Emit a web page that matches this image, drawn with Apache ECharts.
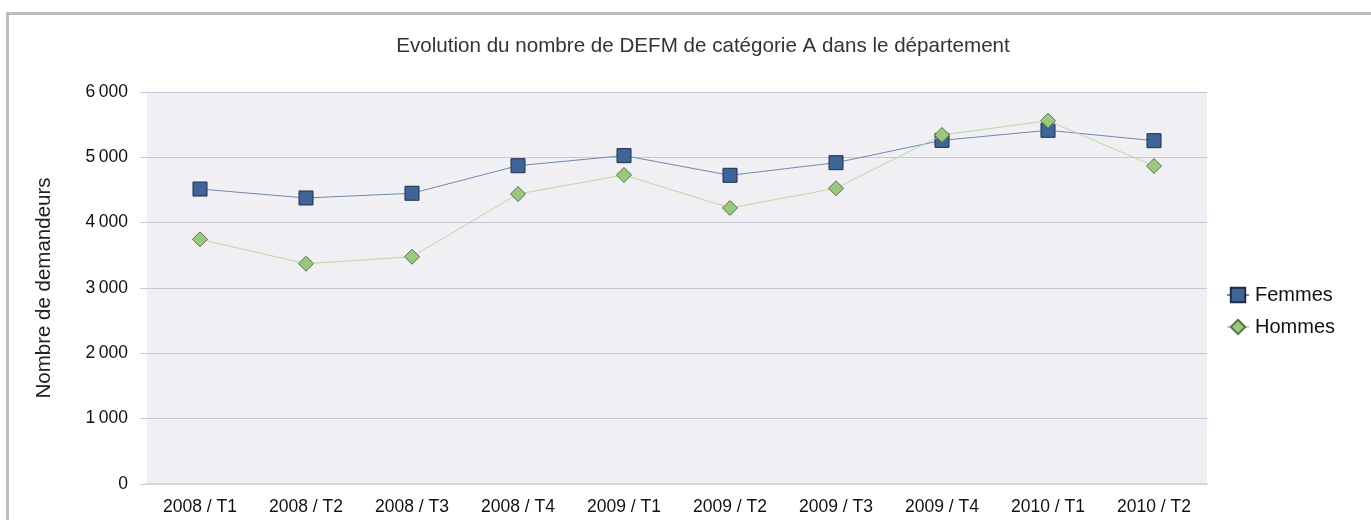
<!DOCTYPE html>
<html>
<head>
<meta charset="utf-8">
<script src="https://cdn.jsdelivr.net/npm/echarts@6/dist/echarts.min.js"></script>
<style>
  html, body { margin: 0; padding: 0; background: #fff; }
  #main { width: 1371px; height: 520px; }
</style>
</head>
<body>
<div id="main"></div>
<script>
// trimestres
var categories = ['2008 / T1', '2008 / T2', '2008 / T3', '2008 / T4', '2009 / T1',
  '2009 / T2', '2009 / T3', '2009 / T4', '2010 / T1', '2010 / T2'];
var femmes = [4515, 4378, 4450, 4872, 5026, 4725, 4918, 5260, 5414, 5255];
var hommes = [3745, 3372, 3479, 4439, 4730, 4225, 4526, 5342, 5561, 4867];
var yTicks = [0, 1000, 2000, 3000, 4000, 5000, 6000];

var chart = echarts.init(document.getElementById('main'));

// separateur de milliers : espace fine
function fmt(v) {
  return String(v).replace(/\B(?=(\d{3})+(?!\d))/g, '\u2009');
}

chart.setOption({
  backgroundColor: '#fff',
  textStyle: { fontFamily: 'Liberation Sans, Arial, sans-serif' },
  graphic: [{
    type: 'rect',
    shape: { x: 7.5, y: 13.5, width: 1420, height: 600 },
    style: { fill: 'none', stroke: '#bdbdbd', lineWidth: 3 },
    silent: true
  }],
  title: {
    text: 'Evolution du nombre de DEFM de catégorie A dans le département',
    left: 698,
    textAlign: 'center',
    top: 31,
    textStyle: { fontSize: 20.6, fontWeight: 'normal', color: '#333' }
  },
  legend: {
    orient: 'vertical',
    left: 1221,
    top: 280,
    itemWidth: 22,
    itemHeight: 18,
    itemGap: 12,
    textStyle: { fontSize: 20, color: '#111', padding: [0, 0, 0, 1] },
    data: ['Femmes', 'Hommes']
  },
  grid: {
    left: 147, right: 164, top: 92, bottom: 36,
    show: true, backgroundColor: '#efeff4', borderWidth: 0
  },
  xAxis: {
    type: 'category',
    data: categories,
    boundaryGap: true,
    axisLine: { lineStyle: { color: '#d6d6e0', width: 2 } },
    axisTick: { show: false },
    axisLabel: { fontSize: 17.5, color: '#111', margin: 14 }
  },
  yAxis: {
    type: 'value',
    min: yTicks[0],
    max: yTicks[yTicks.length - 1],
    interval: 1000,
    name: 'Nombre de demandeurs',
    nameLocation: 'middle',
    nameGap: 92,
    nameTextStyle: { fontSize: 20.5, color: '#222' },
    axisLine: { show: false },
    axisTick: { show: true, length: 7, lineStyle: { color: '#c8c8d8' } },
    axisLabel: { fontSize: 17.5, color: '#111', margin: 19, formatter: fmt },
    splitLine: { lineStyle: { color: '#c8c8d8' } }
  },
  series: [
    {
      name: 'Femmes',
      type: 'line',
      data: femmes,
      symbol: 'rect',
      symbolSize: 14,
      lineStyle: { color: '#7088b0', width: 1 },
      itemStyle: { color: '#3f6497', borderColor: '#1e2d48', borderWidth: 1 },
      z: 2
    },
    {
      name: 'Hommes',
      type: 'line',
      data: hommes,
      symbol: 'diamond',
      symbolSize: 15,
      lineStyle: { color: '#bcdaa2', width: 1 },
      itemStyle: { color: '#9bc780', borderColor: '#5b7448', borderWidth: 1 },
      z: 3
    }
  ]
});
</script>
</body>
</html>
